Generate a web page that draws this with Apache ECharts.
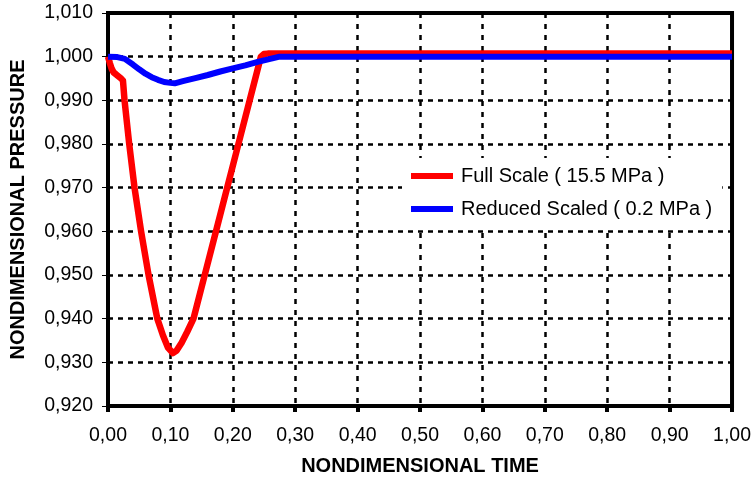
<!DOCTYPE html>
<html>
<head>
<meta charset="utf-8">
<script src="https://cdn.jsdelivr.net/npm/echarts@6/dist/echarts.min.js"></script>
<style>
  html, body { margin: 0; padding: 0; background: #fff; }
  #chart { width: 754px; height: 481px; }
</style>
</head>
<body>
<div id="chart"></div>
<script>
// Full scale (15.5 MPa) - time / pressure
const fullTime = [0, 0.003, 0.006, 0.009, 0.012, 0.015, 0.018, 0.021, 0.024, 0.0265, 0.034, 0.0425, 0.053, 0.065, 0.079, 0.088, 0.096, 0.104, 0.110, 0.118, 0.127, 0.137, 0.155, 0.173, 0.191, 0.209, 0.227, 0.240, 0.245, 0.250, 0.256, 0.30, 0.50, 1.00];
const fullPressure = [1.0000, 0.9985, 0.9972, 0.9964, 0.9968, 0.9957, 0.9961, 0.9950, 0.9945, 0.9900, 0.9800, 0.9700, 0.9600, 0.9500, 0.9400, 0.9362, 0.9334, 0.9321, 0.9327, 0.9345, 0.9370, 0.9400, 0.9500, 0.9600, 0.9700, 0.9800, 0.9900, 0.9972, 1.0000, 1.0006, 1.0007, 1.0007, 1.0007, 1.0007];

// Reduced scaled (0.2 MPa)
const reducedTime = [0, 0.015, 0.027, 0.040, 0.050, 0.060, 0.070, 0.080, 0.090, 0.100, 0.107, 0.120, 0.140, 0.160, 0.180, 0.200, 0.220, 0.240, 0.260, 0.275, 0.290, 0.50, 1.00];
const reducedPressure = [1.0000, 0.9999, 0.9995, 0.9982, 0.9971, 0.9961, 0.9953, 0.9947, 0.9942, 0.9940, 0.9939, 0.9944, 0.9951, 0.9958, 0.9966, 0.9973, 0.9980, 0.9988, 0.9995, 1.0000, 1.0000, 1.0000, 1.0000];

const seriesNames = ['Full Scale ( 15.5 MPa )', 'Reduced Scaled ( 0.2 MPa )'];
const seriesColors = ['#ff0000', '#0000ff'];

const chart = echarts.init(document.getElementById('chart'));
const font = '"Liberation Sans", Arial, sans-serif';

const zip = (xs, ys) => xs.map((x, i) => [x, ys[i]]);

chart.setOption({
    animation: false,
    backgroundColor: '#fff',
    grid: {
        left: 108, right: 21, top: 13, bottom: 73,
        show: true, borderColor: '#000', borderWidth: 4
    },
    legend: {
        orient: 'vertical',
        left: 402, top: 158,
        padding: [8, 10, 8, 9],
        backgroundColor: '#fff',
        itemWidth: 42, itemHeight: 6, itemGap: 13,
        icon: 'rect',
        textStyle: { fontFamily: font, fontSize: 20, color: '#000', padding: [0, 0, 0, 3] },
        data: seriesNames
    },
    xAxis: {
        type: 'value', min: 0, max: 1, interval: 0.1,
        name: 'NONDIMENSIONAL TIME', nameLocation: 'middle', nameGap: 50,
        nameTextStyle: { fontFamily: font, fontSize: 20, fontWeight: 'bold', color: '#000' },
        axisLine: { show: false },
        axisTick: { show: true, length: 6, lineStyle: { color: '#000', width: 4 } },
        axisLabel: { fontFamily: font, fontSize: 19.5, color: '#000', margin: 20,
            formatter: v => v.toFixed(2).replace('.', ',') },
        splitLine: { show: true, lineStyle: { color: '#000', width: 2.5, type: [5, 6] } }
    },
    yAxis: {
        type: 'value', min: 0.92, max: 1.01, interval: 0.01,
        name: 'NONDIMENSIONAL PRESSURE', nameLocation: 'middle', nameGap: 80,
        nameTextStyle: { fontFamily: font, fontSize: 20, fontWeight: 'bold', color: '#000' },
        axisLine: { show: false },
        axisTick: { show: true, length: 6, lineStyle: { color: '#000', width: 1 } },
        axisLabel: { fontFamily: font, fontSize: 19.5, color: '#000', margin: 15,
            formatter: v => v.toFixed(3).replace('.', ',') },
        splitLine: { show: true, lineStyle: { color: '#000', width: 2.5, type: [5, 5] } }
    },
    series: [
        {
            name: seriesNames[0], type: 'line', showSymbol: false, symbol: 'none',
            color: seriesColors[0],
            lineStyle: { color: seriesColors[0], width: 6.5, join: 'round' },
            data: zip(fullTime, fullPressure), z: 3
        },
        {
            name: seriesNames[1], type: 'line', showSymbol: false, symbol: 'none',
            color: seriesColors[1],
            lineStyle: { color: seriesColors[1], width: 6, join: 'round' },
            data: zip(reducedTime, reducedPressure), z: 4
        }
    ]
});
</script>
</body>
</html>
